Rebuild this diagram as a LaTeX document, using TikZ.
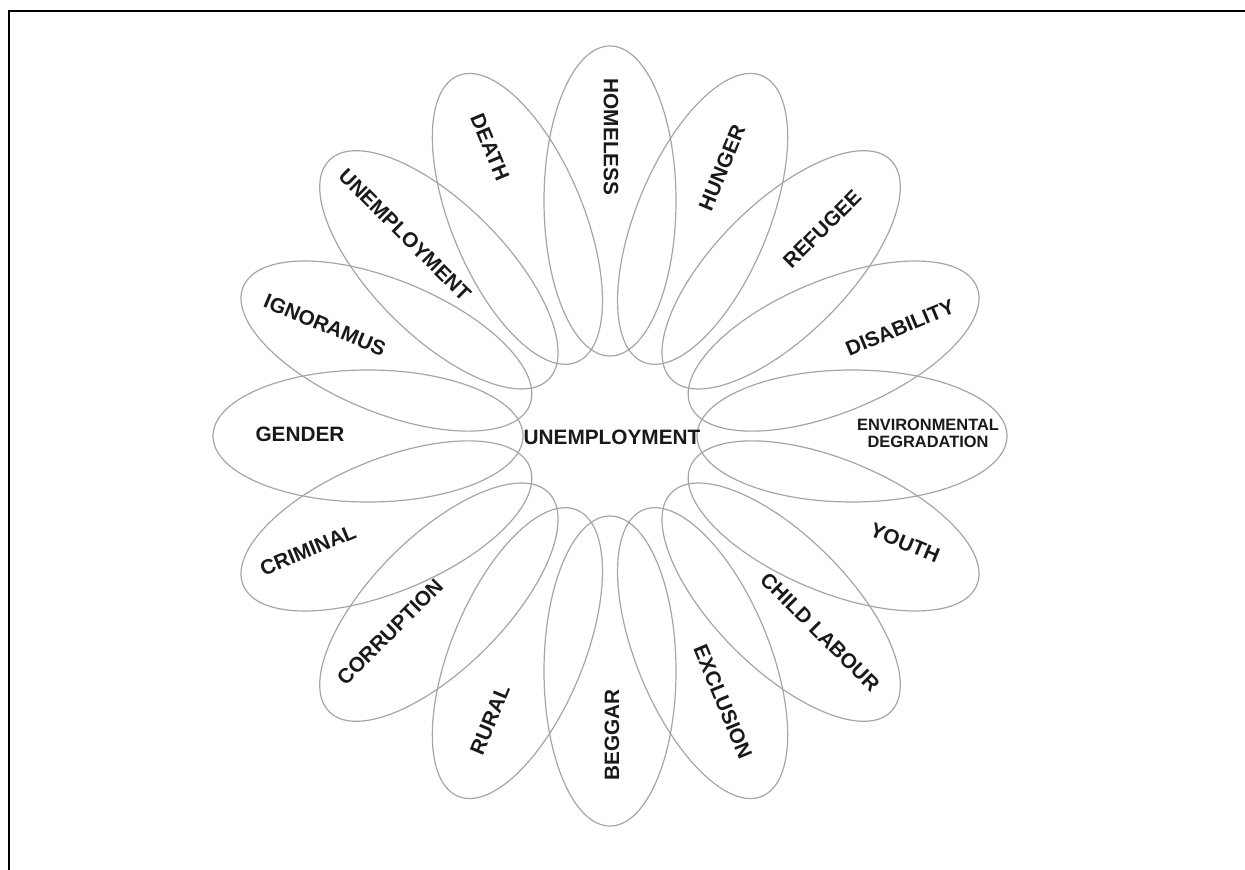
\documentclass[tikz,border=0pt]{standalone}
\usepackage{fontspec}
\setmainfont{Liberation Sans}
\usetikzlibrary{shapes.geometric}
\definecolor{petal}{RGB}{165,165,165}
\begin{document}
\begin{tikzpicture}[x=0.5pt,y=-0.5pt,
  petalshape/.style={draw=petal, line width=0.6pt, ellipse, inner sep=0pt,
    minimum width=155pt, minimum height=66pt},
  lbl/.style={font=\fontsize{10.4}{12}\selectfont\bfseries, text=black!90, inner sep=0pt},
  small/.style={font=\fontsize{8.2}{8.6}\selectfont\bfseries, text=black!90, inner sep=0pt, align=center}]
\useasboundingbox (0,0) rectangle (1245,870);
\draw[line width=1.3pt] (9,870) -- (9,11) -- (1245,11);
% petals
\foreach \a/\n in {0/p0,22.5/p1,45/p2,67.5/p3,90/p4,112.5/p5,135/p6,157.5/p7,
  180/p8,202.5/p9,225/p10,247.5/p11,270/p12,292.5/p13,315/p14,337.5/p15}
  \node[petalshape, rotate=\a] (\n) at ({610+242*cos(\a)},{436-235*sin(\a)}) {};
% labels
\node[lbl] (center) at (612,437) {UNEMPLOYMENT};
\node[small] (t0) at (928,433) {ENVIRONMENTAL\\DEGRADATION};
\node[lbl, rotate=22.5] (t1) at (900,328) {DISABILITY};
\node[lbl, rotate=45] (t2) at (822,229) {REFUGEE};
\node[lbl, rotate=67.5] (t3) at (722,168) {HUNGER};
\node[lbl, rotate=-90] (t4) at (611,137) {HOMELESS};
\node[lbl, rotate=-67.5] (t5) at (490,147) {DEATH};
\node[lbl, rotate=-45] (t6) at (405,235) {UNEMPLOYMENT};
\node[lbl, rotate=-22.5] (t7) at (325,325) {IGNORAMUS};
\node[lbl] (t8) at (300,434) {GENDER};
\node[lbl, rotate=22.5] (t9) at (308,550) {CRIMINAL};
\node[lbl, rotate=45] (t10) at (390,632) {CORRUPTION};
\node[lbl, rotate=67.5] (t11) at (490,720) {RURAL};
\node[lbl, rotate=90] (t12) at (612,735) {BEGGAR};
\node[lbl, rotate=-67.5] (t13) at (723,702) {EXCLUSION};
\node[lbl, rotate=-45] (t14) at (820,632) {CHILD LABOUR};
\node[lbl, rotate=-22.5] (t15) at (905,543) {YOUTH};
\end{tikzpicture}
\end{document}
